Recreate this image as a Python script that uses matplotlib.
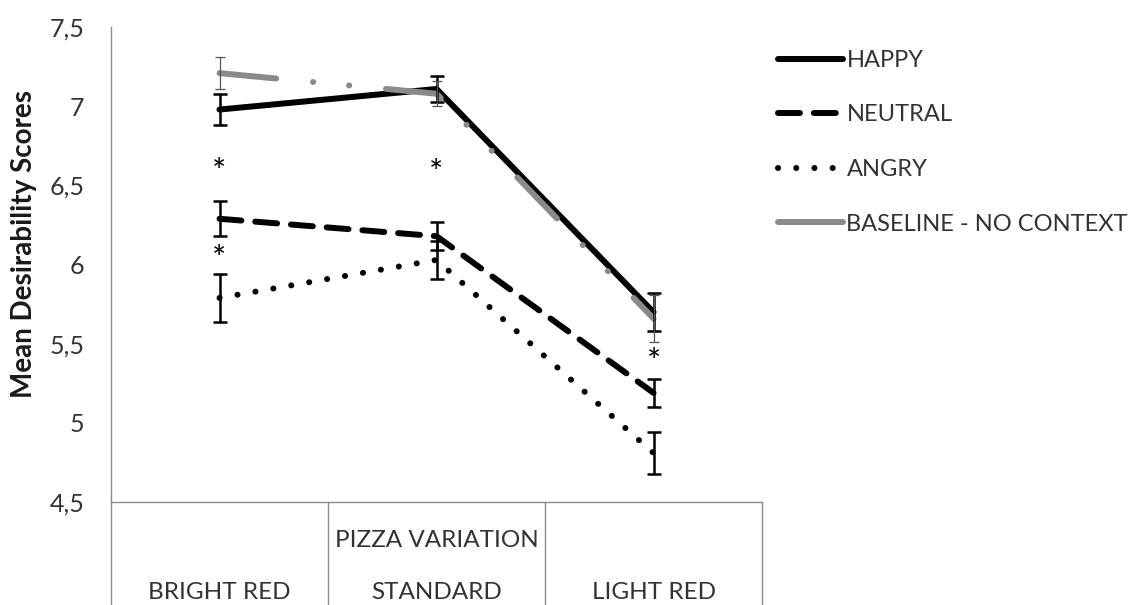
import matplotlib.pyplot as plt
from matplotlib.lines import Line2D

plt.rcParams["font.family"] = ["Lato", "DejaVu Sans"]
plt.rcParams["lines.scale_dashes"] = False

# mean desirability per pizza variation, with error bar half-widths
categories = ["BRIGHT RED", "STANDARD", "LIGHT RED"]
happy = [6.98, 7.11, 5.70]
happy_err = [0.10, 0.08, 0.12]
neutral = [6.29, 6.18, 5.19]
neutral_err = [0.11, 0.09, 0.09]
angry = [5.79, 6.03, 4.81]
angry_err = [0.15, 0.12, 0.13]
baseline = [7.21, 7.08, 5.66]
baseline_err = [0.10, 0.08, 0.15]

# significance markers (x index, y value)
star_x = [0, 0, 1, 2]
star_y = [6.58, 6.03, 6.57, 5.38]

text_col = "#333333"
axis_col = "#8c8c8c"
gray = "#8a8a8a"

fig = plt.figure(figsize=(11.42, 6.05), dpi=100)
ax = fig.add_axes([0.0972, 0.170, 0.5701, 0.785])

x = [0.5, 1.5, 2.5]
lw = 4.3

styles = {
    "HAPPY": dict(color="black", linestyle="-"),
    "NEUTRAL": dict(color="black", linestyle=(0, (15.8, 10.0))),
    "ANGRY": dict(color="black", linestyle=(0, (0.1, 13.0))),
}

ax.plot(x, happy, lw=lw, solid_capstyle="round", zorder=3, **styles["HAPPY"])
ax.plot(x, neutral, lw=lw, dash_capstyle="round", zorder=3, **styles["NEUTRAL"])
ax.plot(x, angry, lw=lw, dash_capstyle="round", zorder=3, **styles["ANGRY"])
ax.plot(x, baseline, lw=lw, color=gray, dash_capstyle="round", zorder=4,
        linestyle=(0, (41.0, 26.6, 0.1, 26.0, 0.1, 26.6)))

for vals, errs in [(happy, happy_err), (neutral, neutral_err), (angry, angry_err)]:
    ax.errorbar(x, vals, yerr=errs, fmt="none", ecolor="black", elinewidth=1.8,
                capsize=4.7, capthick=1.8, zorder=5)
ax.errorbar(x, baseline, yerr=baseline_err, fmt="none", ecolor="#555555",
            elinewidth=0.9, capsize=3.6, capthick=0.9, zorder=5)

for i, yv in zip(star_x, star_y):
    ax.text(x[i], yv, "*", ha="center", va="center", fontsize=24,
            color="black")

ax.set_xlim(0, 3)
ax.set_ylim(4.5, 7.5)
ax.set_yticks([4.5, 5, 5.5, 6, 6.5, 7, 7.5])
ax.set_yticklabels(["4,5", "5", "5,5", "6", "6,5", "7", "7,5"])
ax.set_xticks([])
ax.tick_params(axis="y", length=0, pad=19, labelsize=18, labelcolor=text_col)

for side in ["top", "right"]:
    ax.spines[side].set_visible(False)
ax.spines["left"].set_color(axis_col)
ax.spines["bottom"].set_color(axis_col)
ax.spines["left"].set_linewidth(1.0)
ax.spines["bottom"].set_linewidth(1.0)

ax.set_ylabel("Mean Desirability Scores", fontsize=20, fontweight="bold",
              color="#1a1a1a")
ax.yaxis.set_label_coords(-0.114, 0.543)

# category table under the axis
for xv in [0, 1, 2, 3]:
    ax.plot([xv, xv], [0, -0.3], transform=ax.get_xaxis_transform(),
            color=axis_col, lw=1.0, clip_on=False)
ax.text(1.5, -0.08, "PIZZA VARIATION", transform=ax.get_xaxis_transform(),
        ha="center", va="center", fontsize=17.5, color=text_col)
for xv, cat in zip(x, categories):
    ax.text(xv, -0.19, cat, transform=ax.get_xaxis_transform(),
            ha="center", va="center", fontsize=17.5, color=text_col)

handles = [
    Line2D([], [], lw=lw, solid_capstyle="round", **styles["HAPPY"]),
    Line2D([], [], lw=lw, dash_capstyle="round", **styles["NEUTRAL"]),
    Line2D([], [], lw=lw, dash_capstyle="round", **styles["ANGRY"]),
    Line2D([], [], lw=lw, color=gray, solid_capstyle="round"),
]
labels = ["HAPPY", "NEUTRAL", "ANGRY", "BASELINE - NO CONTEXT"]
leg = ax.legend(handles, labels, loc="upper left", bbox_to_anchor=(1.01, 0.972),
                frameon=False, fontsize=17, handlelength=2.75, handletextpad=0.15,
                labelspacing=1.42, borderaxespad=0)
for t in leg.get_texts():
    t.set_color(text_col)

fig.savefig("out.png", dpi=100)
